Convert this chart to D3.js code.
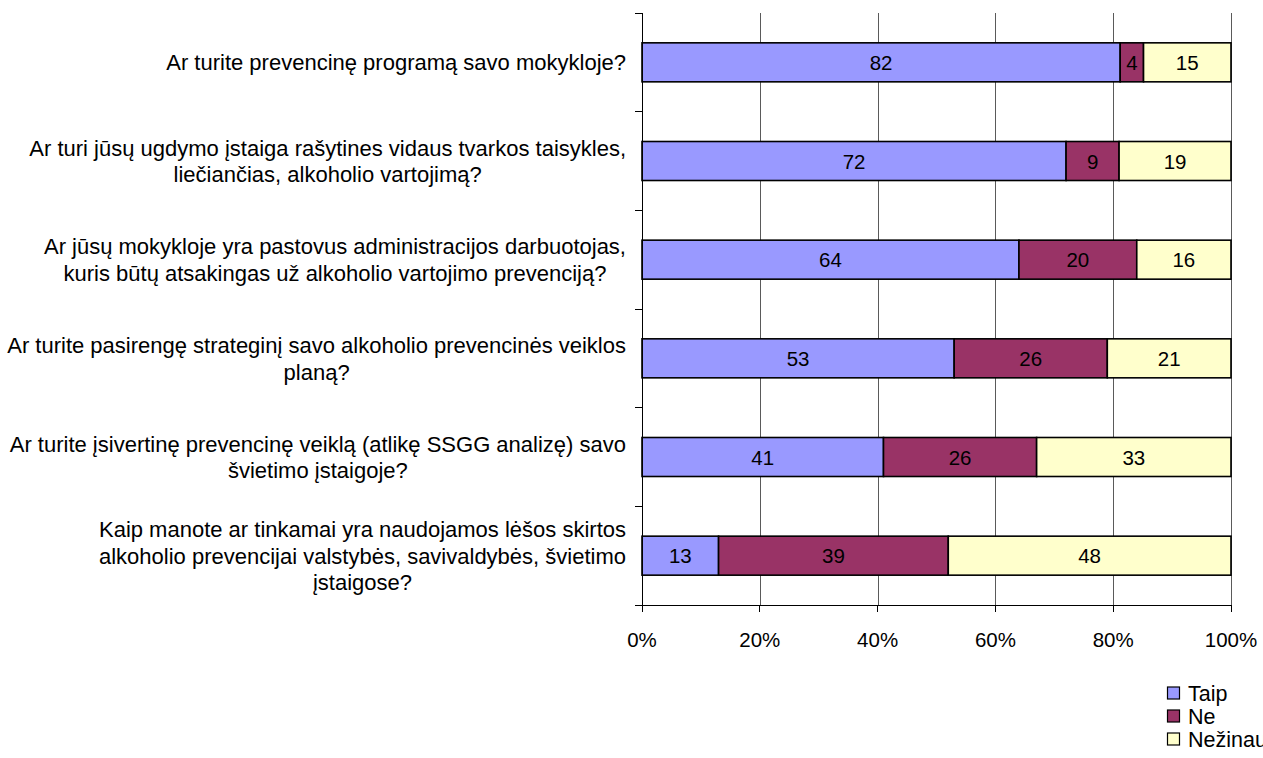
<!DOCTYPE html>
<html><head><meta charset="utf-8">
<script src="https://cdn.jsdelivr.net/npm/d3@7"></script>
<style>
body{margin:0;background:#fff;}
svg{display:block;}
text{font-family:"Liberation Sans",Arial,sans-serif;fill:#000;}
</style></head>
<body>
<script>
const categories = [
  ["Ar turite prevencinę programą savo mokykloje?"],
  ["Ar turi jūsų ugdymo įstaiga rašytines vidaus tvarkos taisykles,", "liečiančias, alkoholio vartojimą?"],
  ["Ar jūsų mokykloje yra pastovus administracijos darbuotojas,", "kuris būtų atsakingas už alkoholio vartojimo prevenciją?"],
  ["Ar turite pasirengę strateginį savo alkoholio prevencinės veiklos", "planą?"],
  ["Ar turite įsivertinę prevencinę veiklą (atlikę SSGG analizę) savo", "švietimo įstaigoje?"],
  ["Kaip manote ar tinkamai yra naudojamos lėšos skirtos", "alkoholio prevencijai valstybės, savivaldybės, švietimo", "įstaigose?"]
];
const seriesNames = ["Taip", "Ne", "Nežinau"];
const taip = [82, 72, 64, 53, 41, 13];
const ne = [4, 9, 20, 26, 26, 39];
const nezinau = [15, 19, 16, 21, 33, 48];
const colors = ["#9999FF", "#993366", "#FFFFCC"];
const xTicks = [0, 0.2, 0.4, 0.6, 0.8, 1.0];

(function () {
const W = 1263, H = 758;
const svg = d3.select("body").append("svg").attr("width", W).attr("height", H);

const pL = 642, pR = 1231, pT = 13, pB = 605;
const x = d3.scaleLinear().domain([0, 1]).range([pL, pR]);
const y = d3.scaleBand().domain(d3.range(categories.length)).range([pT, pB]).paddingInner(0).paddingOuter(0);
const barH = 39;

// gridlines
svg.append("g").selectAll("line").data(xTicks.slice(1)).join("line")
  .attr("x1", d => Math.round(x(d)) + 0.5).attr("x2", d => Math.round(x(d)) + 0.5).attr("y1", pT).attr("y2", pB)
  .attr("stroke", "#5a5a5a").attr("stroke-width", 1);

// stacked data
const rows = categories.map((c, i) => {
  const vals = [taip[i], ne[i], nezinau[i]];
  const tot = d3.sum(vals);
  let acc = 0;
  return vals.map((v, j) => { const s = acc / tot; acc += v; return {i, j, v, x0: s, x1: acc / tot}; });
});

const fs = 20.5, fsLab = 22, fsLeg = 21.5;
const bars = svg.append("g");
rows.forEach(r => r.forEach(d => {
  const yc = y(d.i) + y.bandwidth() / 2;
  bars.append("rect")
    .attr("x", x(d.x0)).attr("y", yc - barH / 2)
    .attr("width", x(d.x1) - x(d.x0)).attr("height", barH)
    .attr("fill", colors[d.j]).attr("stroke", "#000").attr("stroke-width", 1.6);
}));
rows.forEach(r => r.forEach(d => {
  const yc = y(d.i) + y.bandwidth() / 2;
  bars.append("text")
    .attr("x", (x(d.x0) + x(d.x1)) / 2).attr("y", yc + 7.5)
    .attr("text-anchor", "middle").attr("font-size", fs).text(d.v);
}));

// y axis line + ticks
const ax = svg.append("g").attr("stroke", "#000").attr("stroke-width", 1).attr("shape-rendering", "crispEdges");
ax.append("line").attr("x1", pL).attr("x2", pL).attr("y1", pT).attr("y2", pB);
const bounds = d3.range(categories.length + 1).map(k => pT + k * y.step());
ax.selectAll(".yt").data(bounds).join("line").attr("class", "yt")
  .attr("x1", pL - 7).attr("x2", pL).attr("y1", d => d).attr("y2", d => d);
// x axis
ax.append("line").attr("x1", pL - 7).attr("x2", pR).attr("y1", pB).attr("y2", pB);
ax.selectAll(".xt").data(xTicks).join("line").attr("class", "xt")
  .attr("x1", d => x(d)).attr("x2", d => x(d)).attr("y1", pB).attr("y2", pB + 7);

svg.append("g").selectAll("text").data(xTicks).join("text")
  .attr("x", d => x(d)).attr("y", 647).attr("text-anchor", "middle").attr("font-size", fs)
  .text(d => d3.format(".0%")(d));

// category labels
const lh = 26.5;
const lab = svg.append("g");
categories.forEach((lines, i) => {
  const yc = y(i) + y.bandwidth() / 2;
  const g = lab.append("g");
  const ts = lines.map((ln, k) => g.append("text").attr("font-size", fsLab)
    .attr("text-anchor", "middle")
    .attr("y", yc + (k - (lines.length - 1) / 2) * lh + 8).text(ln));
  const maxW = d3.max(ts, t => t.node().getComputedTextLength());
  const cx = 626 - maxW / 2;
  ts.forEach(t => t.attr("x", cx));
});

// legend
const lg = svg.append("g");
seriesNames.forEach((n, j) => {
  const yc = 693 + j * 23;
  lg.append("rect").attr("x", 1167.5).attr("y", yc - 6).attr("width", 12).attr("height", 12)
    .attr("fill", colors[j]).attr("stroke", "#000").attr("stroke-width", 1.2);
  lg.append("text").attr("x", 1188).attr("y", yc + 7.5).attr("font-size", fsLeg).text(n);
});
})();
</script>
</body></html>
